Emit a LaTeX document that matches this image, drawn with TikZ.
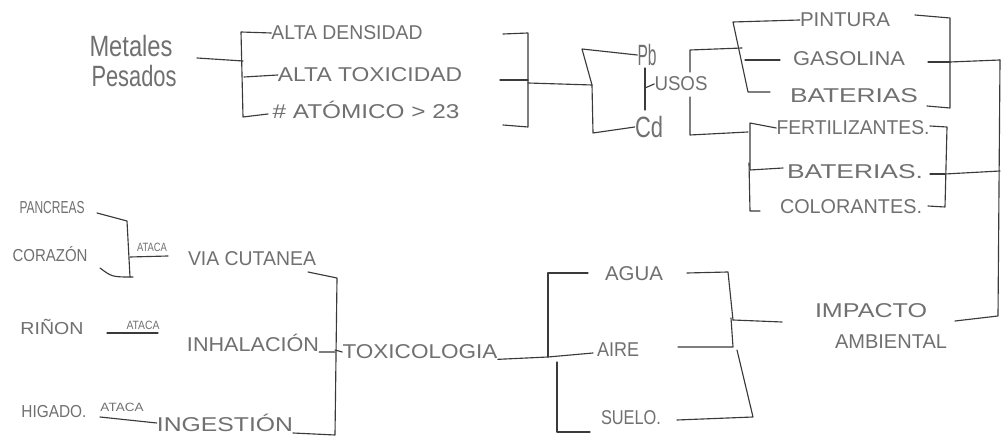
\documentclass[tikz,border=0pt]{standalone}
\usepackage{fontspec}
\setmainfont{Liberation Sans}
\usepackage{graphicx}
\newlength\px
\setlength\px{0.75pt}
\newcommand\hw[2]{\resizebox{#1\px}{\height}{#2}}
\definecolor{inkt}{HTML}{707070}
\definecolor{inkl}{HTML}{3A3A3A}
\begin{document}
\begin{tikzpicture}[x=0.75pt,y=-0.75pt,
  txt/.style={text=inkt, inner sep=0pt, font=\fontsize{15}{17}\selectfont},
  bigtxt/.style={txt, font=\fontsize{22}{24}\selectfont},
  smalltxt/.style={txt, font=\fontsize{13}{15}\selectfont},
  tinytxt/.style={txt, font=\fontsize{9}{11}\selectfont},
  ln/.style={draw=inkl, line width=0.85pt, line join=round, line cap=round}]
\useasboundingbox[fill=white] (0,0) rectangle (1007,441);

% ---------- texts ----------
\node[bigtxt] (metales) at (131,46) {\hw{83}{Metales}};
\node[bigtxt] (pesados) at (134,76) {\hw{85}{Pesados}};
\node[txt] (densidad) at (347,33) {\hw{151}{ALTA DENSIDAD}};
\node[txt] (toxicidad) at (370,75) {\hw{184}{ALTA TOXICIDAD}};
\node[txt] (atomico) at (366,110) {\hw{187}{\# ATÓMICO > 23}};
\node[bigtxt] (pb) at (647,55) {\hw{19}{Pb}};
\node[bigtxt] (cd) at (649,127) {\hw{28}{Cd}};
\node[txt] (usos) at (681,84) {\hw{53}{USOS}};
\node[txt] (pintura) at (845,20) {\hw{90}{PINTURA}};
\node[txt] (gasolina) at (849,59) {\hw{112}{GASOLINA}};
\node[txt] (baterias) at (854,96) {\hw{128}{BATERIAS}};
\node[txt] (fertil) at (853,128) {\hw{153}{FERTILIZANTES.}};
\node[txt] (baterias2) at (855,172) {\hw{136}{BATERIAS.}};
\node[txt] (colorantes) at (851,207) {\hw{142}{COLORANTES.}};
\node[txt] (impacto) at (871,311) {\hw{112}{IMPACTO}};
\node[txt] (ambiental) at (891,342) {\hw{112}{AMBIENTAL}};
\node[txt] (agua) at (634,274) {\hw{58}{AGUA}};
\node[txt] (aire) at (618,350) {\hw{42}{AIRE}};
\node[txt] (suelo) at (631,418) {\hw{60}{SUELO.}};
\node[txt] (toxicologia) at (420,352) {\hw{155}{TOXICOLOGIA}};
\node[txt] (viacutanea) at (252,259) {\hw{128}{VIA CUTANEA}};
\node[txt] (inhalacion) at (253,343) {\hw{132}{INHALACIÓN}};
\node[txt] (ingestion) at (225,423) {\hw{136}{INGESTIÓN}};
\node[smalltxt] (pancreas) at (52,208) {\hw{65}{PANCREAS}};
\node[smalltxt] (corazon) at (50,254) {\hw{75}{CORAZÓN}};
\node[tinytxt] (ataca1) at (152,247) {\hw{30}{ATACA}};
\node[smalltxt] (rinon) at (52,327) {\hw{63}{RIÑON}};
\node[tinytxt] (ataca2) at (143,325) {\hw{33}{ATACA}};
\node[smalltxt] (higado) at (54,412) {\hw{65}{HIGADO.}};
\node[tinytxt] (ataca3) at (122,407) {\hw{43}{ATACA}};

% ---------- top left: metales -> propiedades ----------
\draw[ln] (197,58) -- (243,61);
\draw[ln] (densidad.west) -- (241,32) -- (243,117) -- (268,114);
\draw[ln] (244,77) -- (toxicidad.west);
% right bracket of properties
\draw[ln] (503,34) -- (528,33) -- (528,127) -- (503,125);
\draw[ln] (500,80) -- (528,80);
\coordinate (bout) at (528,83);
\coordinate (cin) at (592,85);
\draw[ln] (bout) -- (cin);
% Pb / Cd bracket
\draw[ln] (pb.west) -- (582,49) -- (cin) -- (593,133) -- (cd.west);
% usos
\draw[ln] (645,68) -- (645,110);
\draw[ln] (645,88) -- (usos.west);
\draw[ln] (690,72) -- (690,50) -- (742,48);
\draw[ln] (690,97) -- (690,135) -- (748,132);
% upper uses bracket
\draw[ln] (pintura.west) -- (733,22) -- (748,92) -- (770,92);
\draw[ln] (745,60) -- (780,60);
\draw[ln] (915,15) -- (950,18) -- (950,108) -- (927,106);
\draw[ln] (928,62) -- (950,62);
% lower uses bracket
\draw[ln] (fertil.west) -- (750,123) -- (750,170) -- (783,168);
\draw[ln] (749,163) -- (750,211) -- (760,211);
\draw[ln] (930,126) -- (947,127) -- (945,207) -- (928,206);
\draw[ln] (930,174) -- (945,174);
% far right collector
\draw[ln] (950,62) -- (1000,60);
\draw[ln] (945,174) -- (1000,171);
\draw[ln] (1000,60) -- (998,316) -- (955,321);

% ---------- bottom ----------
% organs
\draw[ln] (97,213) -- (127,221) -- (130,277);
\draw[ln] (100,268) .. controls (112,277) .. (133,277);
\draw[ln] (130,257) -- (168,256);
\draw[ln] (107,333) -- (158,333);
\draw[ln] (100,417) -- (ingestion.west);
% vias bracket
\draw[ln] (308,272) -- (337,278) -- (335,435) -- (293,433);
\draw[ln] (inhalacion.south east) -- (335,352);
\draw[ln] (335,350) -- (toxicologia.west);
% toxicologia -> medios
\draw[ln] (toxicologia.south east) -- (548,357) -- (593,353);
\draw[ln] (588,273) -- (548,273) -- (548,357);
\draw[ln] (557,362) -- (557,432) -- (590,432);
% medios right bracket
\draw[ln] (687,273) -- (728,272) -- (733,320);
\draw[ln] (678,347) -- (733,347) -- (731,318);
\draw[ln] (677,420) -- (753,417) -- (737,350);
\draw[ln] (733,320) -- (782,322);
\end{tikzpicture}
\end{document}
